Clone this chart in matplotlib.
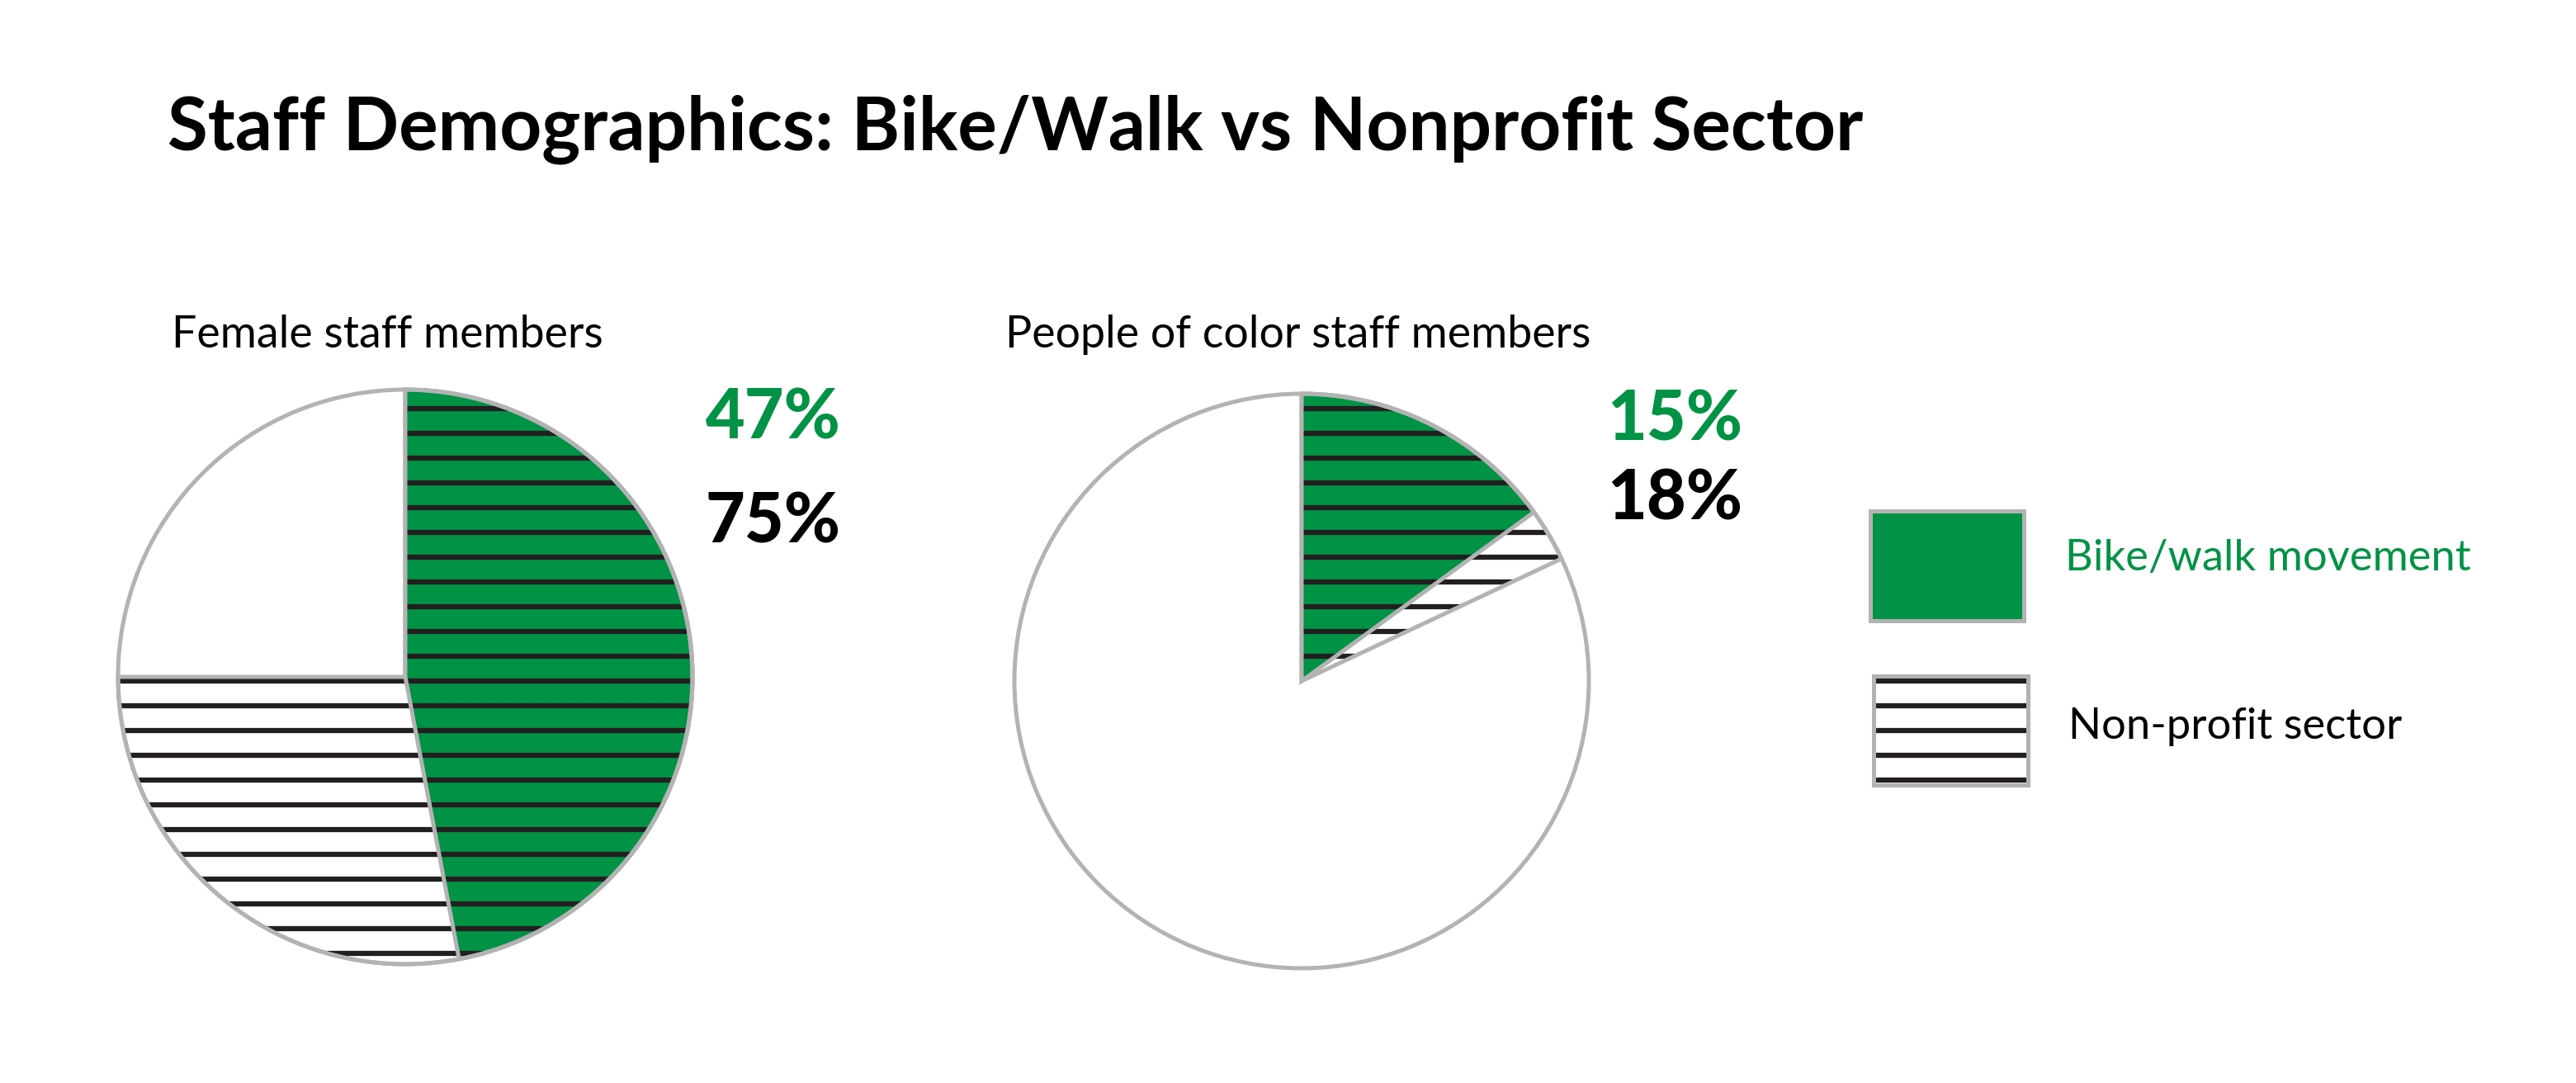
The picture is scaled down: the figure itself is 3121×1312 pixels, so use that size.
import matplotlib.pyplot as plt
from matplotlib.patches import Rectangle

W, H, DPI = 3121, 1312, 180

# data
groups = ['Female staff members', 'People of color staff members']
bike_walk = [47, 15]      # % in bike/walk movement
nonprofit = [75, 18]      # % in non-profit sector
legend_labels = ['Bike/walk movement', 'Non-profit sector']
title = 'Staff Demographics: Bike/Walk vs Nonprofit Sector'

GREEN = '#009245'
LINE = '#231f20'
GREY = '#b3b3b3'

plt.rcParams['font.family'] = ['Lato', 'DejaVu Sans']
plt.rcParams['hatch.linewidth'] = 2.5

fig = plt.figure(figsize=(W / DPI, H / DPI), dpi=DPI)
ax = fig.add_axes([0, 0, 1, 1])

centers = [(491, H - 820), (1577, H - 825)]
radius = 348
edge_w = 2.0


def wedge(share, center, face=None, hatch=None, outline=False):
    if outline:
        props = dict(fill=False, edgecolor=GREY, linewidth=edge_w)
    else:
        props = dict(facecolor=face, edgecolor=LINE, linewidth=0, hatch=hatch)
    values = [share, 100 - share] if share < 100 else [100]
    wedges, _ = ax.pie(values, startangle=90, counterclock=False, center=center,
                       radius=radius, wedgeprops=props, frame=True)
    for w in wedges[1:]:
        w.set_visible(False)


for i, c in enumerate(centers):
    wedge(100, c, face='white')
    wedge(nonprofit[i], c, face='white', hatch='-')
    wedge(nonprofit[i], c, outline=True)
    wedge(bike_walk[i], c, face=GREEN, hatch='-')
    wedge(bike_walk[i], c, outline=True)
    wedge(100, c, outline=True)

# titles and labels
ax.text(203, H - 181, title, fontsize=35.6, fontweight='bold', va='baseline', ha='left')
sub_x = [208, 1218]
for x, g in zip(sub_x, groups):
    ax.text(x, H - 421, g, fontsize=21.5, va='baseline', ha='left')

pct_x = [855, 1947]
green_base = [532, 533]
black_base = [657, 630]
for i in range(2):
    ax.text(pct_x[i], H - green_base[i], f'{bike_walk[i]}%', color=GREEN,
            fontsize=33, fontweight='black', va='baseline')
    ax.text(pct_x[i], H - black_base[i], f'{nonprofit[i]}%', color='black',
            fontsize=33, fontweight='black', va='baseline')

# legend
ax.add_patch(Rectangle((2266, H - 752), 186, 133, facecolor=GREEN,
                       edgecolor=GREY, linewidth=edge_w))
ax.add_patch(Rectangle((2270, H - 951), 187, 132, facecolor='white',
                       edgecolor=LINE, linewidth=0, hatch='-'))
ax.add_patch(Rectangle((2270, H - 951), 187, 132, fill=False,
                       edgecolor=GREY, linewidth=edge_w))
ax.text(2502, H - 677, legend_labels[0], color=GREEN, fontsize=21, va='center')
ax.text(2506, H - 880, legend_labels[1], color='black', fontsize=21, va='center')

ax.set_xlim(0, W)
ax.set_ylim(0, H)
ax.set_aspect('equal')
ax.axis('off')

fig.savefig('out.png', dpi=DPI, facecolor='white')
